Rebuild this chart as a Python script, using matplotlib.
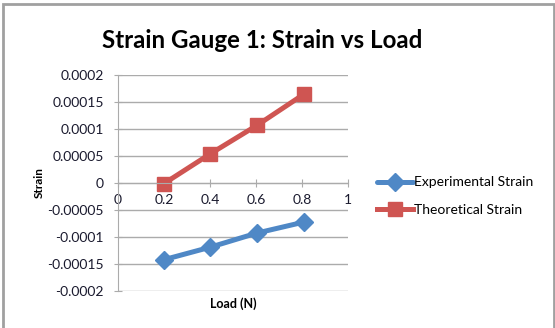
import numpy as np
import matplotlib
matplotlib.use("Agg")
from matplotlib import pyplot as plt
from matplotlib.patches import Rectangle

plt.rcParams['font.family'] = ['Lato', 'DejaVu Sans']

# measured load and strain values
load = [0.2, 0.4, 0.605, 0.81]
experimental = [-0.000142, -0.000119, -0.0000926, -0.0000722]
theoretical = [-0.000001, 0.0000537, 0.000107, 0.000165]

yticks = [0.0002, 0.00015, 0.0001, 0.00005, 0, -0.00005, -0.0001, -0.00015, -0.0002]
ytick_labels = ['0.0002', '0.00015', '0.0001', '0.00005', '0',
                '-0.00005', '-0.0001', '-0.00015', '-0.0002']
xticks = [0, 0.2, 0.4, 0.6, 0.8, 1]
xtick_labels = ['0', '0.2', '0.4', '0.6', '0.8', '1']

blue = '#4F88C6'
red = '#CF5552'
grid_gray = '#ABABAB'

fig = plt.figure(figsize=(5.55, 3.28), dpi=100)
ax = fig.add_axes([118/555, 1 - 291/328, 230/555, 216/328])

ax.plot(load, experimental, color=blue, lw=3.6, marker='D', markersize=9.5,
        label='Experimental Strain', solid_capstyle='round')
ax.plot(load, theoretical, color=red, lw=3.6, marker='s', markersize=10,
        label='Theoretical Strain')

ax.set_xlim(0, 1)
ax.set_ylim(-0.0002, 0.0002)
ax.set_yticks(yticks)
ax.set_yticklabels(ytick_labels)
ax.set_xticks(xticks)
ax.set_xticklabels(xtick_labels)

# gridlines and axis styling
ax.yaxis.grid(True, color=grid_gray, lw=1)
ax.set_axisbelow(True)
ax.spines['top'].set_visible(False)
ax.spines['right'].set_visible(False)
ax.spines['bottom'].set_position(('data', 0))
ax.spines['bottom'].set_color(grid_gray)
ax.spines['left'].set_color(grid_gray)
ax.tick_params(axis='both', direction='inout', length=6, color=grid_gray,
               labelsize=10, labelcolor='#1a1a2e')
ax.tick_params(axis='y', pad=7)
ax.tick_params(axis='x', pad=5)

ax.set_ylabel('Strain', fontweight='bold', fontsize=8.5)
ax.yaxis.set_label_coords((45 - 118) / 230, 0.5)
fig.text(233/555, 1 - 304/328, 'Load (N)', fontweight='bold', fontsize=9,
         ha='center', va='center')

fig.text(262/555, 1 - 40/328, 'Strain Gauge 1: Strain vs Load',
         fontweight='bold', fontsize=17.4, ha='center', va='center')

fig.legend(loc='center left', bbox_to_anchor=(377/555, 1 - 196/328),
           frameon=False, fontsize=10, handlelength=2.6, handletextpad=0.1,
           labelspacing=1.1, borderaxespad=0, borderpad=0)

# outer chart border
fig.patches.append(Rectangle((3/555, -0.05), 551/555, 1.05 - 4/328,
                             transform=fig.transFigure, fill=False,
                             edgecolor='#A0A0A0', lw=2))

fig.savefig('out.png', dpi=100)
